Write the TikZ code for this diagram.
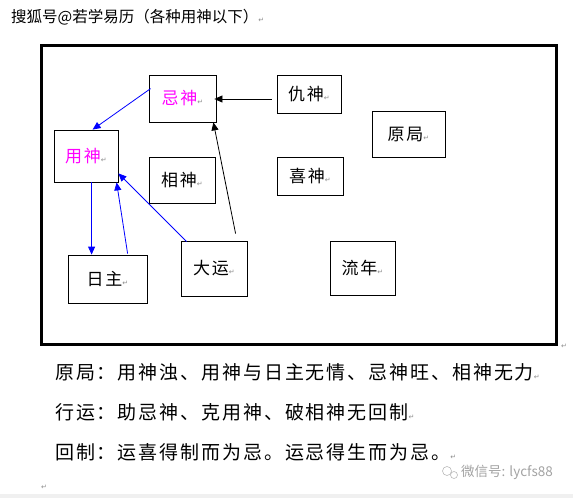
\documentclass[tikz,border=0pt]{standalone}
\usepackage{fontspec}
\setmainfont{Noto Sans CJK SC}
\newfontfamily\symfont{DejaVu Sans}
\newfontfamily\spacedcjk[LetterSpace=10]{Noto Sans CJK SC}
\usetikzlibrary{arrows.meta,calc}
\definecolor{magtext}{RGB}{255,0,255}
\definecolor{arblue}{RGB}{0,0,255}
\definecolor{pmgray}{RGB}{140,140,140}
\newcommand{\pmark}{{\symfont\color{pmgray}\fontsize{7}{7}\selectfont ↵}}
\begin{document}
\begin{tikzpicture}[x=1pt,y=-1pt,
  box/.style={draw,line width=0.8pt,inner sep=0pt,font=\spacedcjk\fontsize{17}{17}\selectfont},
  bluarrow/.style={draw=arblue,line width=0.8pt,-{Triangle[length=8pt,width=7pt]}},
  blkarrow/.style={draw=black,line width=0.8pt,-{Triangle[length=8pt,width=7pt]}},
  bodytext/.style={anchor=west,inner sep=0pt,font=\spacedcjk\fontsize{19}{19}\selectfont}]
\useasboundingbox (0,0) rectangle (573,498);
\fill[gray!12] (0,494) rectangle (573,498);
% title
\node[anchor=west,inner sep=0pt,font=\fontsize{15.5}{15.5}\selectfont] (title) at (11,17) {搜狐号@若学易历（各种用神以下）\pmark};
% frame
\draw[line width=3pt] (41,45) rectangle (556,344);
\node[inner sep=0pt] (framemark) at (564,346) {\pmark};
% nodes
\node[box,minimum width=67pt,minimum height=47pt] (ji) at (182.5,98.5) {\color{magtext}忌神\pmark};
\node[box,minimum width=64pt,minimum height=38pt] (chou) at (309,94) {仇神\pmark};
\node[box,minimum width=73pt,minimum height=46pt] (yuanju) at (408.5,134) {原局\pmark};
\node[box,minimum width=64pt,minimum height=52pt] (yong) at (86,156) {\color{magtext}用神\pmark};
\node[box,minimum width=66pt,minimum height=46pt] (xiang) at (182,180) {相神\pmark};
\node[box,minimum width=66pt,minimum height=38pt] (xi) at (310,176) {喜神\pmark};
\node[box,minimum width=79pt,minimum height=48pt] (rizhu) at (107.5,279) {日主\pmark};
\node[box,minimum width=66pt,minimum height=55pt] (dayun) at (214,268.5) {大运\pmark};
\node[box,minimum width=65pt,minimum height=54pt] (liunian) at (362.5,268) {流年\pmark};
% connectors
\draw[bluarrow] ($(ji.north west)+(2,14)$) -- ($(yong.north west)+(39,0)$);
\draw[bluarrow] ($(yong.south west)+(38,0)$) -- ($(rizhu.north west)+(24,0)$);
\draw[bluarrow] ($(rizhu.north west)+(60,-1)$) -- ($(yong.south west)+(63,0)$);
\draw[bluarrow] ($(dayun.north west)+(6,1)$) -- ($(yong.south east)+(0,-9)$);
\draw[blkarrow] ($(dayun.north west)+(55,-7)$) -- ($(ji.south east)+(-3,0)$);
\draw[blkarrow] ($(chou.west)+(-5,5)$) -- ($(ji.east)+(-2,0.5)$);
% text lines
\node[bodytext] (line1) at (55,372) {原局：用神浊、用神与日主无情、忌神旺、相神无力\pmark};
\node[bodytext] (line2) at (55,412) {行运：助忌神、克用神、破相神无回制\pmark};
\node[bodytext] (line3) at (55,452) {回制：运喜得制而为忌。运忌得生而为忌。\pmark};
\node[inner sep=0pt] (endmark) at (44,487) {\pmark};
% watermark
\draw[pmgray!60,line width=0.6pt] (447,471) circle (4.5pt);
\draw[pmgray!60,line width=0.6pt] (454,475) circle (3.5pt);
\node[anchor=west,inner sep=0pt,text=pmgray!80,font=\fontsize{13.5}{13.5}\selectfont] (wm) at (461,472) {微信号: lycfs88};
\end{tikzpicture}
\end{document}
